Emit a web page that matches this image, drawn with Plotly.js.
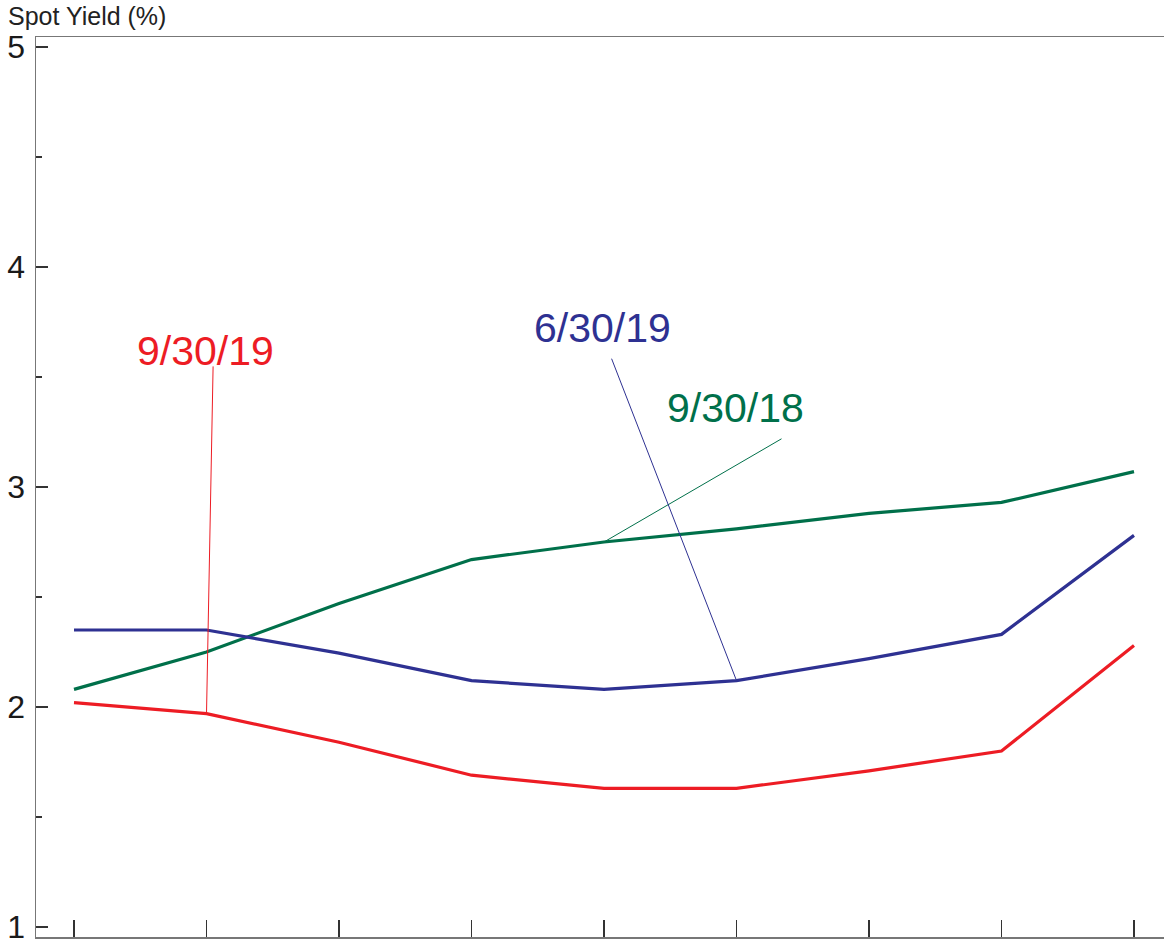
<!DOCTYPE html>
<html>
<head>
<meta charset="utf-8">
<script src="https://cdn.plot.ly/plotly-3.0.1.min.js"></script>
<style>html,body{margin:0;padding:0;background:#fff;}#chart{width:1164px;height:943px;}</style>
</head>
<body>
<div id="chart"></div>
<script>
// Maturity positions (unlabelled ticks on the x axis)
const positions = [0, 1, 2, 3, 4, 5, 6, 7, 8];
// Spot yield curves (%)
const yield_9_30_18 = [2.08, 2.25, 2.47, 2.67, 2.75, 2.81, 2.88, 2.93, 3.07];
const yield_6_30_19 = [2.35, 2.35, 2.245, 2.12, 2.08, 2.12, 2.22, 2.33, 2.78];
const yield_9_30_19 = [2.02, 1.97, 1.84, 1.69, 1.63, 1.63, 1.71, 1.80, 2.28];
const seriesNames = ['9/30/18', '6/30/19', '9/30/19'];
const yTickVals = [1, 2, 3, 4, 5];
const yTickText = ['1', '2', '3', '4', '5'];
const yAxisTitle = 'Spot Yield (%)';

const colors = {'9/30/18': '#00704a', '6/30/19': '#2e3192', '9/30/19': '#ed1c24'};
const seriesData = {'9/30/18': yield_9_30_18, '6/30/19': yield_6_30_19, '9/30/19': yield_9_30_19};

const traces = seriesNames.map(n => ({
  type: 'scatter', mode: 'lines', name: n,
  x: positions, y: seriesData[n],
  line: {color: colors[n], width: 3.2},
  hoverinfo: 'x+y'
}));

// label placement (text position, pointer tail, and index of the point pointed to)
const labelSpec = {
  '9/30/19': {tx: 0.99, ty: 3.62, lx: 1.05, ly: 3.555, idx: 1},
  '6/30/19': {tx: 3.99, ty: 3.725, lx: 4.053, ly: 3.59, idx: 5},
  '9/30/18': {tx: 4.99, ty: 3.36, lx: 5.351, ly: 3.223, idx: 4}
};

const annotations = [];
seriesNames.forEach(n => {
  const s = labelSpec[n];
  annotations.push({
    x: s.tx, y: s.ty, xref: 'x', yref: 'y', text: n, showarrow: false,
    xanchor: 'center', yanchor: 'middle',
    font: {family: 'Liberation Sans, Arial, sans-serif', size: 41, color: colors[n]}
  });
  annotations.push({
    x: positions[s.idx], y: seriesData[n][s.idx], xref: 'x', yref: 'y',
    ax: s.lx, ay: s.ly, axref: 'x', ayref: 'y', text: '', showarrow: true,
    arrowhead: 0, arrowwidth: 1, arrowcolor: colors[n], standoff: 0, startstandoff: 0
  });
});
annotations.push({
  xref: 'paper', yref: 'paper', x: -0.0265, y: 1.0235, xanchor: 'left', yanchor: 'middle',
  text: yAxisTitle, showarrow: false,
  font: {family: 'Liberation Sans, Arial, sans-serif', size: 25, color: '#222'}
});

const layout = {
  width: 1164, height: 943,
  margin: {l: 36, r: 0, t: 37, b: 6, pad: 0},
  paper_bgcolor: '#ffffff', plot_bgcolor: '#ffffff',
  showlegend: false,
  font: {family: 'Liberation Sans, Arial, sans-serif', color: '#222'},
  xaxis: {
    range: [-0.2868, 8.2264], tickvals: positions, showticklabels: false,
    ticks: 'inside', ticklen: 17, tickwidth: 1.2, tickcolor: '#333',
    showline: true, linecolor: '#777', linewidth: 1.5, mirror: true,
    showgrid: false, zeroline: false, fixedrange: true
  },
  yaxis: {
    range: [0.9545, 5.0455], tickvals: yTickVals, ticktext: yTickText,
    ticks: 'inside', ticklen: 12, tickwidth: 1.2, tickcolor: '#333',
    tickfont: {size: 32, color: '#1a1a1a', family: 'Liberation Sans, Arial, sans-serif'},
    ticklabelstandoff: 3, ticklabeloverflow: 'allow',
    minor: {dtick: 0.5, tick0: 1, ticks: 'inside', ticklen: 6, tickwidth: 1.2, tickcolor: '#333', showgrid: false},
    showline: true, linecolor: '#777', linewidth: 1.5,
    showgrid: false, zeroline: false, automargin: false, fixedrange: true
  },
  annotations: annotations
};

Plotly.newPlot('chart', traces, layout, {displayModeBar: false, staticPlot: true});
</script>
</body>
</html>
